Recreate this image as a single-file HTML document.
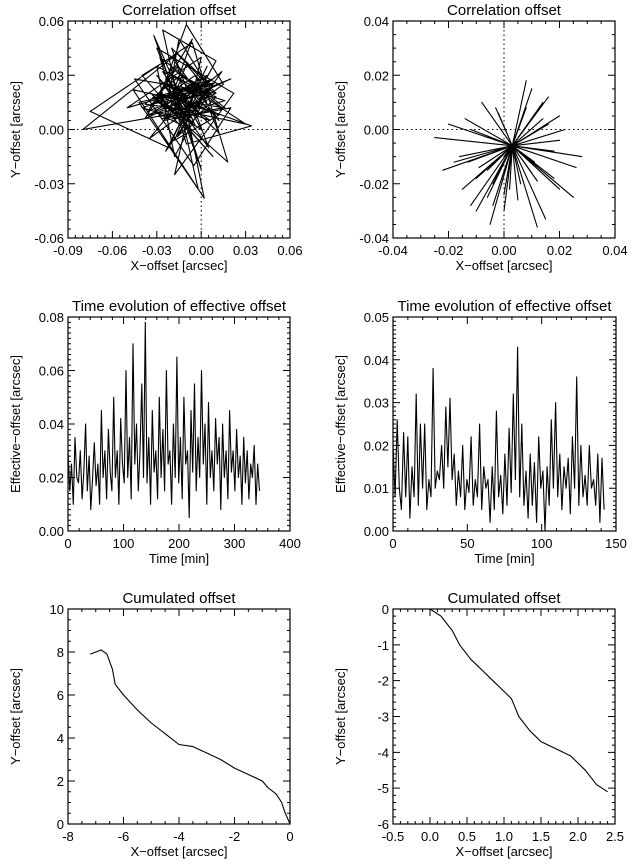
<!DOCTYPE html>
<html><head><meta charset="utf-8"><style>
html,body{margin:0;padding:0;background:#fff}
svg{display:block;font-family:"Liberation Sans",sans-serif}
</style></head><body>
<svg id="fig" width="640" height="866" viewBox="0 0 640 866"></svg>
<script>
const scatterLX=[-0.01,-0.03,0.005,-0.02,0.01,-0.045,-0.005,0.02,-0.025,-0.015,0.0,-0.035,0.015,-0.01,-0.028,0.008,-0.04,-0.02,0.012,-0.008,-0.05,0.0,-0.018,0.022,-0.03,-0.012,0.004,-0.022,-0.075,-0.006,0.018,-0.034,-0.014,0.01,-0.026,-0.002,-0.042,0.006,-0.016,-0.08,-0.01,0.03,-0.02,0.0,-0.032,-0.012,0.014,-0.024,-0.004,0.02,-0.038,-0.016,0.002,-0.046,-0.008,0.016,-0.028,-0.01,0.034,-0.02,-0.006,-0.036,0.008,-0.018,-0.03,0.003,-0.014,-0.024,0.0,-0.012,
-0.02,0.006,-0.03,-0.004,0.012,-0.022,-0.01,-0.036,0.004,-0.016,0.01,-0.026,-0.006,-0.018,0.008,-0.032,-0.012,0.002,-0.024,-0.008,0.014,-0.02,-0.03,0.0,-0.014,0.01,-0.04,-0.006,-0.022,0.004,-0.012,-0.028,0.012,-0.018,-0.002,-0.034,0.006,-0.01,-0.024,0.016,-0.016,-0.004,-0.03,0.008,-0.02,-0.008,0.0,-0.026,0.01,-0.014,-0.038,-0.002,-0.018,0.004,-0.01];
const scatterLY=[0.01,0.03,-0.01,0.045,0.02,0.028,-0.02,0.012,0.005,0.05,0.03,-0.005,0.025,0.058,0.018,-0.015,0.03,0.04,0.005,0.022,0.012,0.04,-0.025,0.02,0.045,0.008,0.035,-0.01,0.01,0.048,-0.018,0.02,0.002,0.038,0.055,-0.033,0.015,0.025,0.042,0.0,0.01,0.003,0.03,-0.022,0.052,0.015,0.032,-0.012,0.02,0.028,0.006,0.035,-0.038,0.022,0.015,0.012,0.04,-0.008,0.002,0.018,0.05,0.01,0.025,-0.015,0.035,0.02,0.008,0.028,0.012,0.015,
0.02,0.005,0.015,0.03,-0.002,0.025,0.012,0.008,0.022,-0.004,0.018,0.032,0.006,0.014,0.028,0.01,0.002,0.02,0.024,0.008,0.012,0.034,0.016,0.0,0.022,0.026,0.012,0.004,0.018,0.03,0.01,0.02,0.008,-0.006,0.026,0.014,0.02,0.036,0.006,0.016,0.024,0.002,0.018,0.028,0.01,0.022,0.012,0.006,0.02,0.03,0.014,0.01,0.024,0.016,0.012];
const scatterRX=[0.003,-0.02,0.003,0.025,0.003,-0.01,0.003,0.02,0.003,-0.015,0.003,0.01,0.003,-0.005,0.003,0.028,0.003,-0.025,0.003,0.015,0.003,-0.008,0.003,0.018,0.003,0.0,0.003,-0.012,0.003,0.022,0.003,-0.018,0.003,0.008,0.003,-0.003,0.003,0.012,0.003,-0.022,0.003,0.026,0.003,0.006,0.003,-0.006,0.003,0.016,0.003,-0.014,0.003,0.02,
0.003,-0.009,0.003,0.014,0.003,-0.004,0.003,0.01,0.003,-0.012,0.003,0.018,0.003,0.0,0.003,0.008,0.003,-0.007,0.003,0.012,0.003,-0.016,0.003,0.005,0.003,0.016,0.003,-0.002,0.003,0.011,0.003,-0.01,0.003,0.02,0.003,-0.006,0.003,0.009,0.003,0.002,0.003,-0.013,0.003,0.014,0.003,-0.004,0.003,0.006,0.003,0.0,0.003,0.022];
const scatterRY=[-0.006,0.002,-0.006,-0.025,-0.006,-0.03,-0.006,0.005,-0.006,-0.022,-0.006,0.015,-0.006,-0.035,-0.006,-0.01,-0.006,-0.003,-0.006,-0.033,-0.006,0.01,-0.006,-0.018,-0.006,-0.03,-0.006,-0.028,-0.006,0.0,-0.006,-0.012,-0.006,0.018,-0.006,0.008,-0.006,-0.036,-0.006,-0.015,-0.006,-0.014,-0.006,-0.02,-0.006,-0.025,-0.006,0.012,-0.006,0.004,-0.006,-0.022,
-0.006,-0.014,-0.006,0.004,-0.006,-0.02,-0.006,-0.016,-0.006,0.0,-0.006,-0.008,-0.006,-0.024,-0.006,0.008,-0.006,-0.002,-0.006,-0.019,-0.006,-0.01,-0.006,-0.026,-0.006,0.002,-0.006,0.006,-0.006,-0.012,-0.006,-0.018,-0.006,-0.004,-0.006,-0.015,-0.006,0.012,-0.006,-0.022,-0.006,-0.012,-0.006,0.01,-0.006,-0.028,-0.006,-0.016,-0.006,-0.01];
const timeL=[0.03,0.015,0.025,0.01,0.035,0.02,0.018,0.03,0.012,0.022,0.04,0.015,0.028,0.008,0.02,0.033,0.017,0.025,0.01,0.045,0.02,0.03,0.012,0.038,0.022,0.015,0.05,0.02,0.03,0.01,0.042,0.025,0.018,0.06,0.02,0.035,0.012,0.07,0.025,0.04,0.015,0.03,0.055,0.02,0.078,0.018,0.035,0.01,0.045,0.022,0.03,0.012,0.05,0.02,0.038,0.015,0.06,0.025,0.03,0.01,0.04,0.02,0.065,0.018,0.035,0.012,0.05,0.025,0.03,0.005,0.045,0.022,0.055,0.015,0.035,0.02,0.06,0.025,0.04,0.01,0.048,0.02,0.03,0.015,0.042,0.025,0.035,0.008,0.04,0.02,0.03,0.012,0.045,0.022,0.03,0.015,0.038,0.02,0.028,0.01,0.035,0.018,0.03,0.012,0.025,0.02,0.032,0.01,0.025,0.015];
const timeR=[0.02,0.008,0.026,0.01,0.005,0.023,0.008,0.022,0.003,0.015,0.008,0.032,0.006,0.025,0.01,0.025,0.005,0.012,0.008,0.038,0.01,0.014,0.012,0.02,0.01,0.029,0.015,0.031,0.012,0.018,0.006,0.014,0.008,0.02,0.005,0.012,0.009,0.022,0.006,0.012,0.008,0.025,0.005,0.015,0.01,0.012,0.002,0.015,0.005,0.028,0.008,0.013,0.004,0.018,0.006,0.024,0.009,0.032,0.012,0.043,0.008,0.025,0.006,0.014,0.003,0.018,0.006,0.016,0.002,0.022,0.01,0.014,0.0,0.015,0.006,0.026,0.01,0.03,0.008,0.018,0.005,0.015,0.01,0.017,0.004,0.022,0.01,0.036,0.006,0.02,0.008,0.013,0.006,0.02,0.01,0.012,0.006,0.018,0.002,0.017,0.005];
const cumLX=[0,-0.1,-0.2,-0.3,-0.5,-0.8,-1.0,-1.5,-2.0,-2.5,-3.0,-3.5,-4.0,-4.5,-5.0,-5.5,-6.0,-6.3,-6.4,-6.6,-6.8,-7.0,-7.2];
const cumLY=[0,0.3,0.6,1.0,1.4,1.7,2.0,2.3,2.6,3.0,3.3,3.6,3.7,4.2,4.7,5.3,6.0,6.5,7.2,7.9,8.1,8.0,7.9];
const cumRX=[0,0.15,0.3,0.4,0.55,0.7,0.85,1.0,1.1,1.2,1.35,1.5,1.7,1.9,2.1,2.25,2.4];
const cumRY=[0,-0.2,-0.6,-1.0,-1.4,-1.7,-2.0,-2.3,-2.5,-3.0,-3.4,-3.7,-3.9,-4.1,-4.5,-4.9,-5.1];

const NS='http://www.w3.org/2000/svg';
const svg=document.getElementById('fig');
function mk(tag,attrs,parent){const e=document.createElementNS(NS,tag);for(const k in attrs)e.setAttribute(k,attrs[k]);(parent||svg).appendChild(e);return e;}
function panel(o){
  const g=mk('g',{});
  
  
  const sx=v=>o.x0+(v-o.xmin)/(o.xmax-o.xmin)*(o.x1-o.x0);
  const sy=v=>o.y1-(v-o.ymin)/(o.ymax-o.ymin)*(o.y1-o.y0);
  const t=mk('text',{x:(o.x0+o.x1)/2,y:o.y0-6,'text-anchor':'middle','font-size':15},g);t.textContent=o.title;
  
  if(o.zero){
    const zl=mk('path',{d:`M${o.x0},${sy(0)}H${o.x1}M${sx(0)},${o.y0}V${o.y1}`,stroke:'#000','stroke-dasharray':'1.5,3',fill:'none'},g);
    
  }
  let d='';o.xs.forEach((v,i)=>{d+=(i?'L':'M')+sx(v).toFixed(1)+','+sy(o.ys[i]).toFixed(1);});
  const p=mk('path',{d:d,stroke:'#000','stroke-width':1.1,fill:'none','stroke-linejoin':'round'},g);
  
  const f=mk('rect',{x:o.x0,y:o.y0,width:o.x1-o.x0,height:o.y1-o.y0,fill:'none',stroke:'#000','stroke-width':1.2},g);
  
  let td='';
  o.xt.forEach(v=>{const X=sx(v);td+=`M${X},${o.y1}v-7M${X},${o.y0}v7`;
    const l=mk('text',{x:X,y:o.y1+17,'text-anchor':'middle','font-size':13},g);l.textContent=o.xf(v);
    });
  o.yt.forEach(v=>{const Y=sy(v);td+=`M${o.x0},${Y}h7M${o.x1},${Y}h-7`;
    const l=mk('text',{x:o.x0-4,y:Y+5,'text-anchor':'end','font-size':13},g);l.textContent=o.yf(v);
    });
  const nx=o.xt.length-1, ny=o.yt.length-1;
  for(let i=0;i<nx;i++){for(let k=1;k<o.mx;k++){const X=sx(o.xt[i]+(o.xt[i+1]-o.xt[i])*k/o.mx);td+=`M${X},${o.y1}v-3M${X},${o.y0}v3`;}}
  for(let i=0;i<ny;i++){for(let k=1;k<o.my;k++){const Y=sy(o.yt[i]+(o.yt[i+1]-o.yt[i])*k/o.my);td+=`M${o.x0},${Y}h3M${o.x1},${Y}h-3`;}}
  mk('path',{d:td,stroke:'#000',fill:'none'},g);
  const xl=mk('text',{x:(o.x0+o.x1)/2,y:o.y1+32,'text-anchor':'middle','font-size':13},g);xl.textContent=o.xl;
  
  const yx=o.x0-48,yc=(o.y0+o.y1)/2;
  const yl=mk('text',{x:yx,y:yc,'text-anchor':'middle','font-size':13,transform:`rotate(-90 ${yx} ${yc})`},g);yl.textContent=o.yl;
  
}
const f2=v=>v.toFixed(2), f0=v=>v.toFixed(0), f1=v=>v.toFixed(1);
const idx=(arr,max)=>arr.map((_,i)=>i*max/(arr.length-1));
panel({name:'correlation-offset-left',title:'Correlation offset',x0:68,x1:290,y0:21,y1:238,xmin:-0.09,xmax:0.06,ymin:-0.06,ymax:0.06,xs:scatterLX,ys:scatterLY,xt:[-0.09,-0.06,-0.03,0,0.03,0.06],yt:[-0.06,-0.03,0,0.03,0.06],xf:f2,yf:f2,xl:'X−offset [arcsec]',yl:'Y−offset [arcsec]',zero:true,mx:6,my:6});
panel({name:'correlation-offset-right',title:'Correlation offset',x0:393,x1:615,y0:21,y1:238,xmin:-0.04,xmax:0.04,ymin:-0.04,ymax:0.04,xs:scatterRX,ys:scatterRY,xt:[-0.04,-0.02,0,0.02,0.04],yt:[-0.04,-0.02,0,0.02,0.04],xf:f2,yf:f2,xl:'X−offset [arcsec]',yl:'Y−offset [arcsec]',zero:true,mx:4,my:4});
panel({name:'time-evolution-left',title:'Time evolution of effective offset',x0:68,x1:290,y0:317,y1:531,xmin:0,xmax:400,ymin:0,ymax:0.08,xs:idx(timeL,345),ys:timeL,xt:[0,100,200,300,400],yt:[0,0.02,0.04,0.06,0.08],xf:f0,yf:f2,xl:'Time [min]',yl:'Effective−offset [arcsec]',mx:5,my:10});
panel({name:'time-evolution-right',title:'Time evolution of effective offset',x0:393,x1:616,y0:317,y1:531,xmin:0,xmax:150,ymin:0,ymax:0.05,xs:idx(timeR,142),ys:timeR,xt:[0,50,100,150],yt:[0,0.01,0.02,0.03,0.04,0.05],xf:f0,yf:f2,xl:'Time [min]',yl:'Effective−offset [arcsec]',mx:5,my:10});
panel({name:'cumulated-offset-left',title:'Cumulated offset',x0:68,x1:290,y0:609,y1:824,xmin:-8,xmax:0,ymin:0,ymax:10,xs:cumLX,ys:cumLY,xt:[-8,-6,-4,-2,0],yt:[0,2,4,6,8,10],xf:f0,yf:f0,xl:'X−offset [arcsec]',yl:'Y−offset [arcsec]',mx:4,my:4});
panel({name:'cumulated-offset-right',title:'Cumulated offset',x0:393,x1:615,y0:609,y1:824,xmin:-0.5,xmax:2.5,ymin:-6,ymax:0,xs:cumRX,ys:cumRY,xt:[-0.5,0,0.5,1,1.5,2,2.5],yt:[-6,-5,-4,-3,-2,-1,0],xf:f1,yf:f0,xl:'X−offset [arcsec]',yl:'Y−offset [arcsec]',mx:5,my:5});
</script>
</body></html>
